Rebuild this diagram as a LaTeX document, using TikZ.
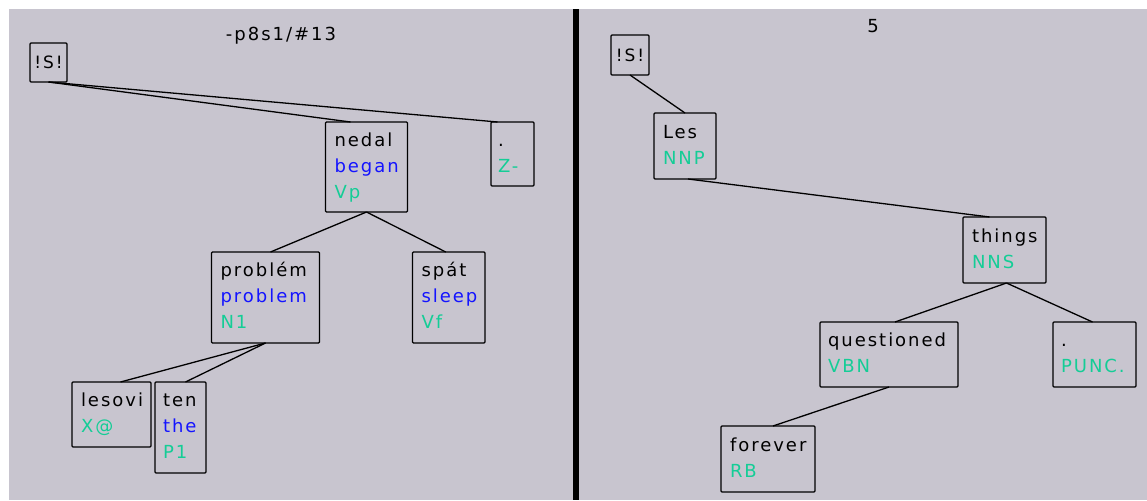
\documentclass[tikz,border=0pt]{standalone}
\usepackage{fontspec}
\newfontfamily\treefont{DejaVu Sans}[LetterSpace=11]
\definecolor{panelgray}{RGB}{200,197,207}
\definecolor{glossblue}{RGB}{20,20,255}
\definecolor{tagteal}{RGB}{20,205,150}

\tikzset{
  treebox/.style={draw=black, line width=1.3pt, rounded corners=1pt,
    anchor=north west, inner xsep=9pt, inner ysep=0pt, outer sep=0pt,
    align=left, font=\treefont\fontsize{18}{26}\selectfont,
    execute at begin node=\strut, execute at end node=\strut},
  rootbox/.style={draw=black, line width=1.3pt, rounded corners=1pt,
    anchor=north west, inner sep=0pt, outer sep=0pt,
    font=\treefont\fontsize{17}{26}\selectfont},
  edge/.style={draw=black, line width=1.3pt},
  title/.style={font=\treefont\fontsize{18}{26}\selectfont, inner sep=0pt}
}
\newcommand{\gloss}[1]{\textcolor{glossblue}{#1}}
\newcommand{\tagname}[1]{\textcolor{tagteal}{#1}}

\begin{document}
\begin{tikzpicture}[x=1pt, y=-1pt]
\useasboundingbox (0,0) rectangle (1147,500);
% panels and divider
\fill[panelgray] (9,9) rectangle (1147,500);
\fill[black] (573,9) rectangle (579,500);

% left tree
\node[title] (title1) at (281,36) {-p8s1/\#13};
\node[rootbox, minimum width=37pt, minimum height=39pt] (s1) at (30,43) {!S!};
\node[treebox, minimum width=82pt, minimum height=90pt, text width=64pt] (nedal) at (325.5,122)
  {nedal\\\gloss{began}\\\tagname{Vp}};
\node[treebox, inner xsep=7pt, minimum width=43pt, minimum height=64pt, text width=29pt] (zdot) at (491,122)
  {.\\\tagname{Z-}};
\node[treebox, minimum width=108pt, minimum height=91pt, text width=90pt] (problem) at (211.5,252)
  {problém\\\gloss{problem}\\\tagname{N1}};
\node[treebox, minimum width=72.5pt, minimum height=91pt, text width=54.5pt] (spat) at (412.5,252)
  {spát\\\gloss{sleep}\\\tagname{Vf}};
\node[treebox, minimum width=79pt, minimum height=65pt, text width=61pt] (lesovi) at (72,382)
  {lesovi\\\tagname{X@}};
\node[treebox, inner xsep=8pt, minimum width=51pt, minimum height=91pt, text width=35pt] (ten) at (155,382)
  {ten\\\gloss{the}\\\tagname{P1}};

\draw[edge] (s1.south) -- ([xshift=-16pt]nedal.north);
\draw[edge] (s1.south) -- ([xshift=-15pt]zdot.north);
\draw[edge] (nedal.south) -- ([xshift=5pt]problem.north);
\draw[edge] (nedal.south) -- ([xshift=-3pt]spat.north);
\draw[edge] (problem.south) -- ([xshift=9pt]lesovi.north);
\draw[edge] (problem.south) -- ([xshift=5pt]ten.north);

% right tree
\node[title] (title2) at (873,26) {5};
\node[rootbox, minimum width=38pt, minimum height=40pt] (s2) at (611,35) {!S!};
\node[treebox, minimum width=62pt, minimum height=66pt, text width=44pt] (les) at (654,113)
  {Les\\\tagname{NNP}};
\node[treebox, minimum width=83pt, minimum height=66pt, text width=65pt] (things) at (963,217)
  {things\\\tagname{NNS}};
\node[treebox, inner xsep=8pt, minimum width=138pt, minimum height=65pt, text width=122pt] (questioned) at (820,322)
  {questioned\\\tagname{VBN}};
\node[treebox, inner xsep=8pt, minimum width=83pt, minimum height=65pt, text width=67pt] (punc) at (1053,322)
  {.\\\tagname{PUNC.}};
\node[treebox, minimum width=94pt, minimum height=66pt, text width=76pt] (forever) at (721,426)
  {forever\\\tagname{RB}};

\draw[edge] (s2.south) -- (les.north);
\draw[edge] ([xshift=3pt]les.south) -- ([xshift=-15pt]things.north);
\draw[edge] ([xshift=2pt]things.south) -- ([xshift=6pt]questioned.north);
\draw[edge] ([xshift=2pt]things.south) -- ([xshift=-2pt]punc.north);
\draw[edge] (questioned.south) -- ([xshift=5pt]forever.north);
\end{tikzpicture}
\end{document}
